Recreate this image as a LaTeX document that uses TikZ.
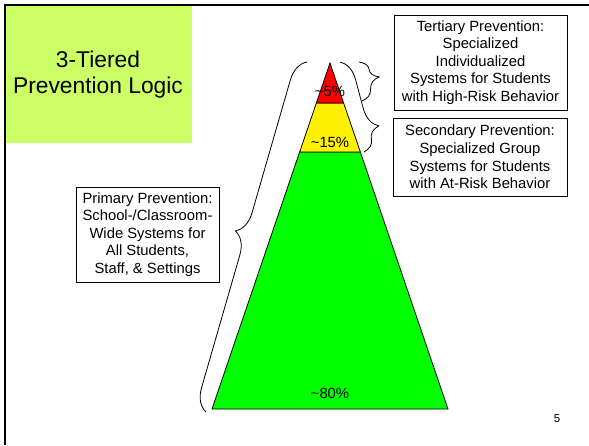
\documentclass[tikz,border=0pt]{standalone}
\usepackage{fontspec}
\setmainfont{Liberation Sans}
\usetikzlibrary{decorations.pathreplacing}
\definecolor{titlegreen}{RGB}{204,255,102}

\begin{document}
\begin{tikzpicture}[
            x=1pt, y=-1pt,
            every node/.style={inner sep=0pt, align=center, font=\fontsize{14.8}{17.6}\selectfont},
            tierbox/.style={draw, line width=0.8pt, fill=white},
            tier/.style={draw=black, line width=0.8pt},
            curly/.style 2 args={decorate, line width=0.8pt, decoration={brace, amplitude=#1, aspect=#2}}]
            \useasboundingbox (0,0) rectangle (589,445);
            \fill[titlegreen] (5,5) rectangle (192,143);
            \node[font=\fontsize{22.8}{26.2}\selectfont] (title) at (98,75) {3-Tiered\\Prevention Logic};
            \draw[line width=1.8pt] (5,445) -- (5,5) -- (589,5);

            \coordinate (apex) at (330,63);
            \coordinate (baseL) at (212,409);
            \coordinate (baseR) at (448,409);
            \filldraw[tier, fill=green] (299.65,152) -- (360.35,152) -- (baseR) -- (baseL) -- cycle;
            \filldraw[tier, fill=yellow] (316.36,103) -- (343.64,103) -- (360.35,152) -- (299.65,152) -- cycle;
            \filldraw[tier, fill=red] (apex) -- (343.64,103) -- (316.36,103) -- cycle;
            \node (pct5) at (330,91) {\textasciitilde5\%};
            \node (pct15) at (330,142.5) {\textasciitilde15\%};
            \node (pct80) at (330,393) {\textasciitilde80\%};

            \node[tierbox, minimum width=173, minimum height=95] (tertiary) at (480.5,62.5)
                {Tertiary Prevention:\\Specialized\\Individualized\\Systems for Students\\with High-Risk Behavior};
            \node[tierbox, minimum width=174, minimum height=78] (secondary) at (480,157)
                {Secondary Prevention:\\Specialized Group\\Systems for Students\\with At-Risk Behavior};
            \node[tierbox, minimum width=143, minimum height=95] (primary) at (147.5,234.5)
                {Primary Prevention:\\School-/Classroom-\\Wide Systems for\\All Students,\\Staff, \& Settings};

            \coordinate (primTop) at (307,62);
            \coordinate (primBot) at (206,412);
            \coordinate (secTop) at (340,62);
            \coordinate (secBot) at (364,152);
            \coordinate (terTop) at (359,62);
            \coordinate (terBot) at (362,101);
            \draw[curly={22}{0.5}] (primBot) -- (primTop);
            \draw[curly={21}{0.77}] (secTop) -- (secBot);
            \draw[curly={19}{0.42}] (terTop) -- (terBot);

            \node[font=\fontsize{11.5}{13}\selectfont] (pagenum) at (557,419) {5};
        \end{tikzpicture}
\end{document}
